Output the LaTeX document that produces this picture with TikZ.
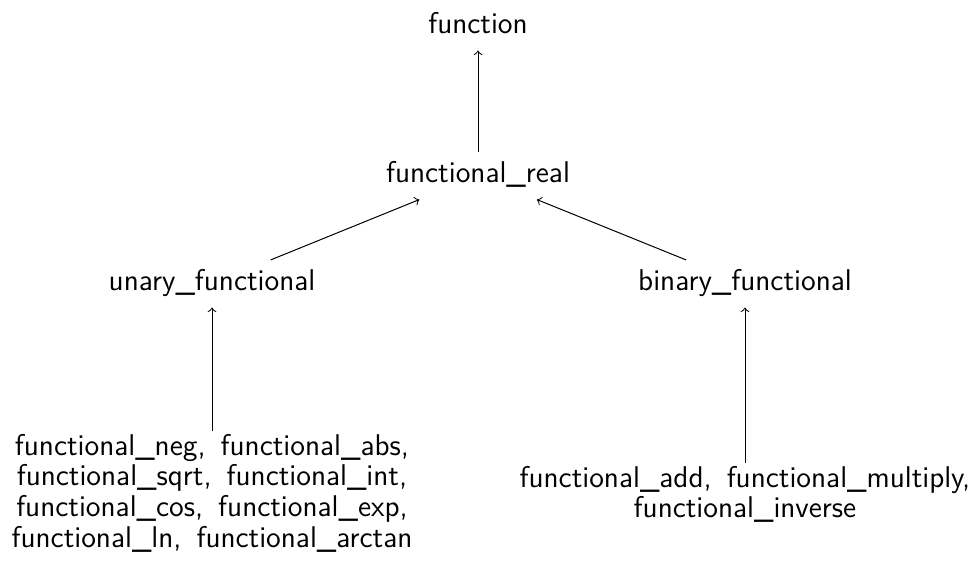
\documentclass[tikz,border=0pt]{standalone}
\usepackage{fontspec}
\begin{document}
\begin{tikzpicture}[x=0.4pt,y=-0.4pt,
  every node/.style={font=\sffamily\fontsize{12}{12.3}\selectfont},
  cls/.style={anchor=base, text height=8.5pt, text depth=3.5pt},
  leaves/.style={anchor=north, align=center, text width=#1, inner sep=1pt,
    execute at begin node={\setlength{\baselineskip}{12.3pt}}},
  isa/.style={->, line width=0.4pt}]
\useasboundingbox (0,0) rectangle (976,574);
% class hierarchy
\node[cls] (fn)     at (478,33)  {function};
\node[cls] (real)   at (478,182) {functional\_real};
\node[cls] (unary)  at (212,290) {unary\_functional};
\node[cls] (binary) at (745,290) {binary\_functional};
% concrete functionals
\node[leaves=170pt] (uleaf) at (212,431) {functional\_neg,\enspace functional\_abs,\\
  functional\_sqrt,\enspace functional\_int,\\
  functional\_cos,\enspace functional\_exp,\\
  functional\_ln,\enspace functional\_arctan};
\node[leaves=190pt] (bleaf) at (745,463) {functional\_add,\enspace functional\_multiply,\\
  functional\_inverse};
% inheritance arrows
\draw[isa] (real) -- (fn);
\draw[isa] (unary) -- (real);
\draw[isa] (binary) -- (real);
\draw[isa] (uleaf) -- (unary);
\draw[isa] (bleaf) -- (binary);
\end{tikzpicture}
\end{document}
